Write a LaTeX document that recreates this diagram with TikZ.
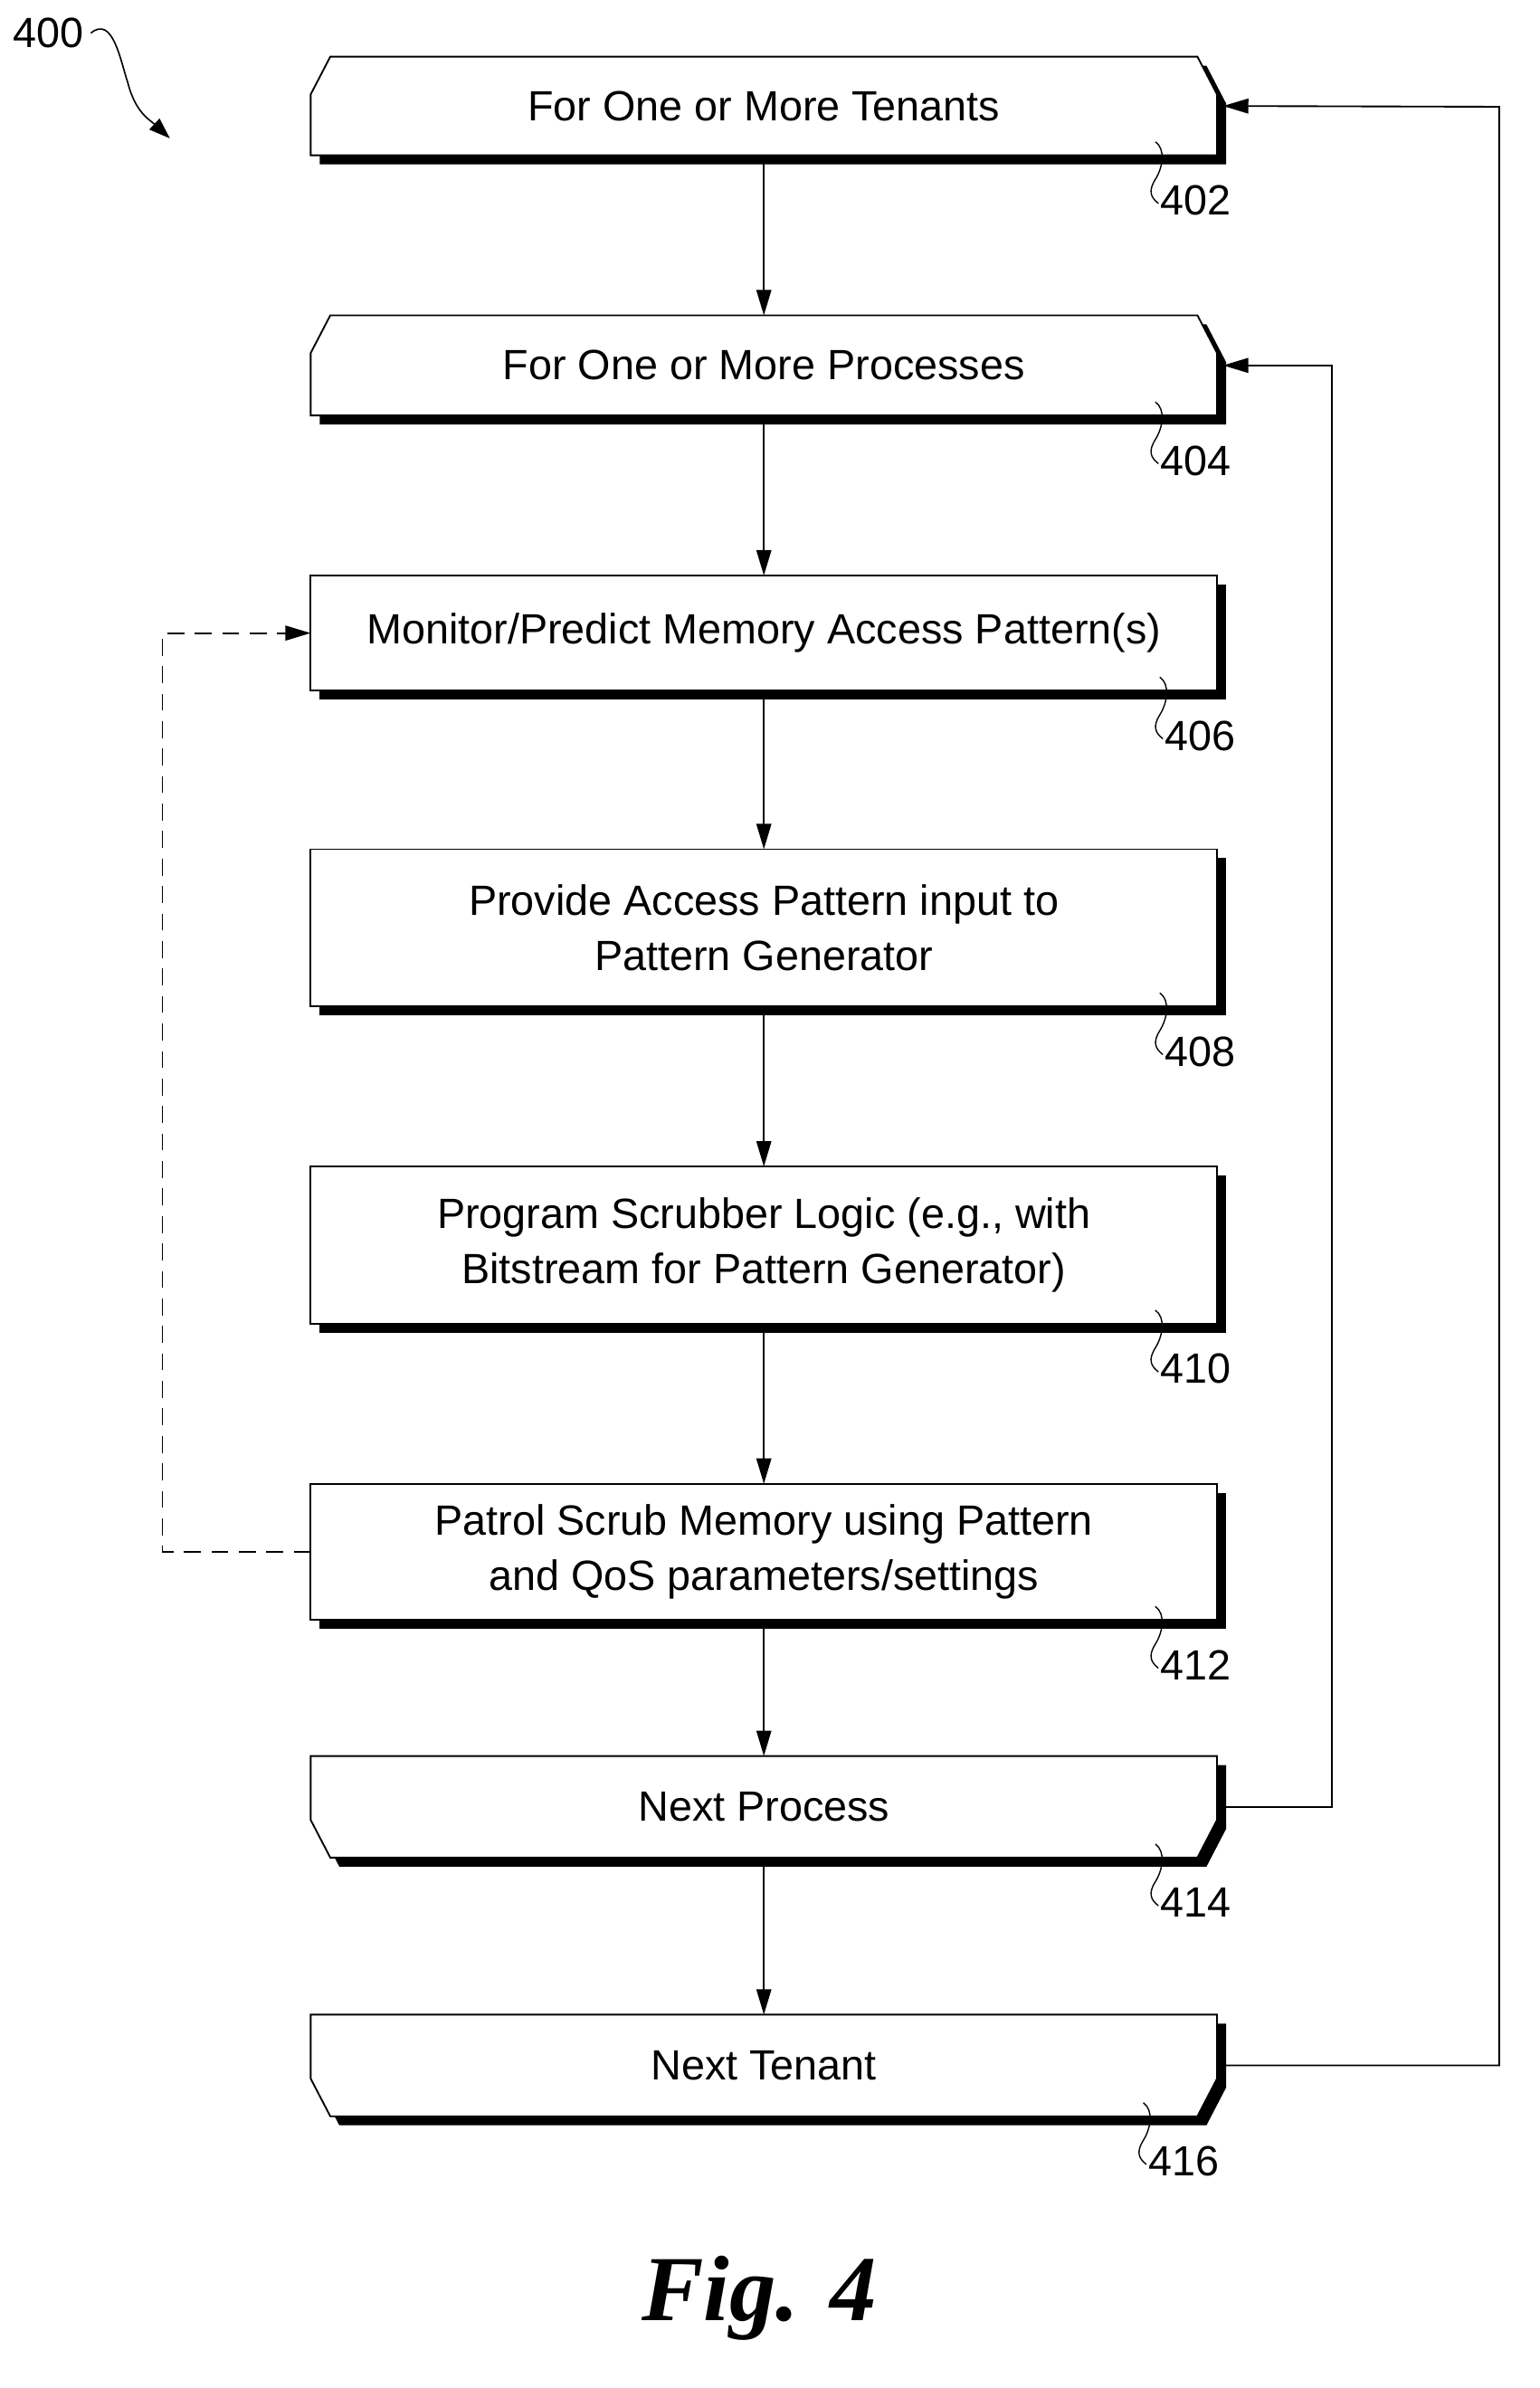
\documentclass[tikz,border=0pt]{standalone}
\usepackage{fontspec}
\setmainfont{Liberation Sans}
\newfontfamily\figfont{Liberation Serif}
\usetikzlibrary{arrows.meta,positioning,calc}

\tikzset{
  step/.style={minimum width=15.05cm, minimum height=#1*0.025cm, inner sep=0pt, align=center,
    font=\fontsize{20}{26}\selectfont},
  flow/.style={-{Triangle[length=12pt,width=7pt]}, line width=0.8pt},
  refnum/.style={anchor=west, inner sep=0pt, font=\fontsize{20}{24}\selectfont},
  lead/.style={line width=0.6pt},
}
% chamfered box: #1 name, #2 top (1) or bottom (0) corners cut
\newcommand{\cutbox}[2]{%
  \ifnum#2=1
    \fill ($(#1.south west)+(6,6)$) -- ($(#1.north west)+(6,31)$) -- ($(#1.north west)+(19,6)$)
      -- ($(#1.north east)+(-7,6)$) -- ($(#1.north east)+(6,31)$) -- ($(#1.south east)+(6,6)$) -- cycle;
    \draw[fill=white, line width=0.8pt] (#1.south west) -- ($(#1.north west)+(0,25)$) -- ($(#1.north west)+(13,0)$)
      -- ($(#1.north east)+(-13,0)$) -- ($(#1.north east)+(0,25)$) -- (#1.south east) -- cycle;
  \else
    \fill ($(#1.north west)+(6,6)$) -- ($(#1.south west)+(6,-19)$) -- ($(#1.south west)+(19,6)$)
      -- ($(#1.south east)+(-7,6)$) -- ($(#1.south east)+(6,-19)$) -- ($(#1.north east)+(6,6)$) -- cycle;
    \draw[fill=white, line width=0.8pt] (#1.north west) -- ($(#1.south west)+(0,-25)$) -- ($(#1.south west)+(13,0)$)
      -- ($(#1.south east)+(-13,0)$) -- ($(#1.south east)+(0,-25)$) -- (#1.north east) -- cycle;
  \fi}
% plain box with shadow
\newcommand{\plainbox}[1]{%
  \fill ($(#1.south west)+(6,6)$) rectangle ($(#1.north east)+(6,6)$);
  \draw[fill=white, line width=0.8pt] (#1.south west) rectangle (#1.north east);}

\begin{document}
\begin{tikzpicture}[x=0.025cm, y=-0.025cm]
  \useasboundingbox (0,0) rectangle (1024,1588);
  %--------------- nodes ---------------
  \node[step=65] (n402) at (508,70.5) {};
  \node[step=66] (n404) at (508,243) {};
  \node[step=76] (n406) at (508,421) {};
  \node[step=104] (n408) at (508,617) {};
  \node[step=104] (n410) at (508,828) {};
  \node[step=90] (n412) at (508,1032) {};
  \node[step=67] (n414) at (508,1201.5) {};
  \node[step=67] (n416) at (508,1373.5) {};
  %--------------- outlines ---------------
  \cutbox{n402}{1}
  \cutbox{n404}{1}
  \plainbox{n406}
  \plainbox{n408}
  \plainbox{n410}
  \plainbox{n412}
  \cutbox{n414}{0}
  \cutbox{n416}{0}
  %--------------- texts ---------------
  \node[step=65] at (n402) {For One or More Tenants};
  \node[step=66] at (n404) {For One or More Processes};
  \node[step=76] at (n406) {Monitor/Predict Memory Access Pattern(s)};
  \node[step=104] at (n408) {Provide Access Pattern input to\\Pattern Generator};
  \node[step=104] at (n410) {Program Scrubber Logic (e.g., with\\Bitstream for Pattern Generator)};
  \node[step=90] at (n412) {Patrol Scrub Memory using Pattern\\and QoS parameters/settings};
  \node[step=67] at (n414) {Next Process};
  \node[step=67] at (n416) {Next Tenant};
  %--------------- reference numerals ---------------
  \foreach \n/\d in {402/0,404/0,406/3,408/3,410/0,412/0,414/0,416/-8} {
    \draw[lead] ($(n\n.south east)+(-41+\d,-9)$) .. controls ($(n\n.south east)+(-34+\d,-4)$) and ($(n\n.south east)+(-36+\d,8)$) .. ($(n\n.south east)+(-41+\d,16)$) .. controls ($(n\n.south east)+(-46+\d,24)$) and ($(n\n.south east)+(-44+\d,28)$) .. ($(n\n.south east)+(-39+\d,32)$);
    \node[refnum] (r\n) at ($(n\n.south east)+(-38+\d,30)$) {\n};
  }
  %--------------- arrows ---------------
  \draw[flow] (n402) -- (n404);
  \draw[flow] (n404) -- (n406);
  \draw[flow] (n406) -- (n408);
  \draw[flow] (n408) -- (n410);
  \draw[flow] (n410) -- (n412);
  \draw[flow] (n412) -- (n414);
  \draw[flow] (n414) -- (n416);
  % loops back
  \draw[flow] ($(n414.east)+(6,0)$) -| (886,243) -- ($(n404.east)+(4,0)$);
  \draw[flow] ($(n416.east)+(6,0)$) -| (997,71) -- ($(n402.east)+(4,0)$);
  \draw[flow, dashed, dash pattern=on 8pt off 5pt] (n412.west) -| (108,421) -- (n406.west);
  %--------------- figure label ---------------
  \node[font=\fontsize{20}{24}\selectfont] (f400) at (32,22) {400};
  \coordinate (f400tip) at (113,92);
  \draw[-{Triangle[length=10pt,width=7pt]}, line width=0.7pt] (f400.east) .. controls (75,10) and (80,40) .. (85,55) .. controls (90,75) and (100,80) .. (f400tip);
  \node[font=\figfont\bfseries\itshape\fontsize{44}{50}\selectfont] (fig) at (505,1528) {Fig. 4};
\end{tikzpicture}
\end{document}
